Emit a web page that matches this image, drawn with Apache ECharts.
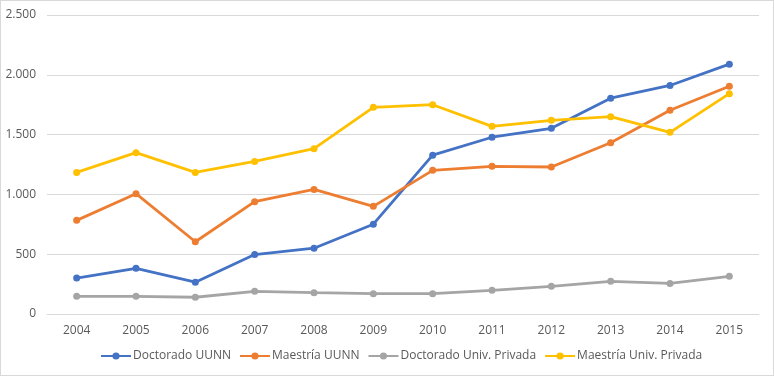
<!DOCTYPE html>
<html><head><meta charset="utf-8">
<script src="https://cdn.jsdelivr.net/npm/echarts@6/dist/echarts.min.js"></script>
<style>html,body{margin:0;padding:0;background:#fff}#c{width:772px;height:374px;border:1px solid #D9D9D9}</style>
</head><body><div id="c"></div>
<script>
const years = ['2004','2005','2006','2007','2008','2009','2010','2011','2012','2013','2014','2015'];
const doctoradoUUNN = [300, 382, 266, 497, 550, 751, 1328, 1478, 1553, 1804, 1911, 2089];
const maestriaUUNN = [783, 1006, 604, 939, 1042, 900, 1201, 1235, 1229, 1432, 1703, 1904];
const doctoradoPrivada = [148, 148, 140, 190, 178, 170, 170, 198, 231, 273, 256, 315];
const maestriaPrivada = [1184, 1349, 1184, 1276, 1382, 1728, 1750, 1569, 1619, 1650, 1519, 1842];
const seriesNames = ['Doctorado UUNN','Maestría UUNN','Doctorado Univ. Privada','Maestría Univ. Privada'];
const colors = ['#4472C4','#ED7D31','#A5A5A5','#FFC000'];
const yTicks = {min:0, max:2500, interval:500};

const chart = echarts.init(document.getElementById('c'));
const font = '"Open Sans", sans-serif';
const mk = (name, data, color) => ({
  name, type:'line', data, color,
  symbol:'circle', symbolSize:7,
  lineStyle:{width:2.8, color}, itemStyle:{color},
  emphasis:{disabled:true}, animation:false
});
chart.setOption({
  animation:false,
  textStyle:{fontFamily:font},
  grid:{left:46, right:14, top:14, bottom:61},
  xAxis:{type:'category', data:years, boundaryGap:true,
    axisLine:{show:true, lineStyle:{color:'#D9D9D9'}}, axisTick:{show:false},
    axisLabel:{color:'#595959', fontSize:12, margin:11, fontFamily:font}},
  yAxis:{type:'value', min:yTicks.min, max:yTicks.max, interval:yTicks.interval,
    axisLine:{show:false}, axisTick:{show:false},
    splitLine:{lineStyle:{color:'#D9D9D9', width:1}},
    axisLabel:{color:'#595959', fontSize:12, margin:11, fontFamily:font,
      formatter:v => v.toLocaleString('de-DE')}},
  legend:{bottom:8, left:94, itemWidth:30, itemHeight:9, itemGap:8,
    textStyle:{color:'#595959', fontSize:12, fontFamily:font, padding:[0,0,0,-3]},
    data:seriesNames},
  series:[
    mk(seriesNames[0], doctoradoUUNN, colors[0]),
    mk(seriesNames[1], maestriaUUNN, colors[1]),
    mk(seriesNames[2], doctoradoPrivada, colors[2]),
    mk(seriesNames[3], maestriaPrivada, colors[3])
  ]
});
</script></body></html>
